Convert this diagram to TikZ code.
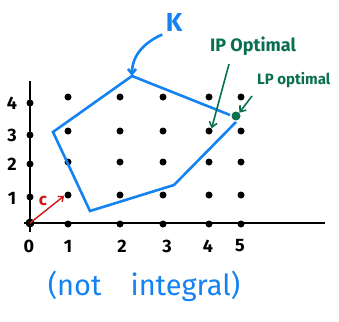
\documentclass[tikz,border=0pt]{standalone}
\usepackage{fontspec}
\setmainfont{Fira Sans}
\usepackage{xcolor}
\usetikzlibrary{arrows.meta,positioning}
\definecolor{penblue}{RGB}{20,130,240}
\definecolor{pengreen}{RGB}{10,110,80}
\definecolor{penred}{RGB}{210,20,20}
\tikzset{
  dot/.style={circle,fill=black,inner sep=0pt,minimum size=7pt},
  ticklabel/.style={font=\fontsize{18}{18}\selectfont\bfseries},
  greennote/.style={text=pengreen,font=\fontsize{15}{15}\selectfont\bfseries},
  pointer/.style={-{Straight Barb[length=5pt,width=8pt]},line width=1.6pt}
}
\begin{document}
\begin{tikzpicture}[x=1pt,y=-1pt,>=Stealth]
\useasboundingbox (0,0) rectangle (339,321);
% axes
\coordinate (o) at (30,223);
\coordinate (xstart) at (24,223);
\coordinate (xend) at (325,223);
\coordinate (ybot) at (30,232);
\coordinate (ytop) at (30,81);
\draw[line width=2pt] (xstart)--(xend);
\draw[line width=2pt] (ybot)--(ytop);
\node[dot,minimum size=9pt] (p00) at (o) {};
\foreach \j/\y in {1/197,2/164,3/135,4/103}{\node[dot] (p0\j) at (30,\y) {};}
% lattice points
\foreach \i/\x in {1/68,2/120,3/163,4/209,5/241}{
  \foreach \j/\y in {0/224,1/195,2/162,3/131,4/97}{\node[dot] (p\i\j) at (\x,\y) {};}
}
% tick labels
\foreach \i/\x in {0/29,1/68,2/122,3/167,4/208,5/240}{\node[ticklabel] (xl\i) at (\x,246) {\i};}
\foreach \j/\y in {1/198,2/164,3/135,4/103}{\node[ticklabel] (yl\j) at (12,\y) {\j};}
% polytope K
\coordinate (k1) at (53,132);
\coordinate (k2) at (132,76);
\coordinate (k3) at (230,115);
\coordinate (k4) at (236,122);
\coordinate (k5) at (174,185);
\coordinate (k6) at (90,211);
\draw[penblue,line width=2.6pt,line join=miter] (k3)--(k2)--(k1)--(k6)--(k5)--(k4);
\node[text=penblue,font=\fontsize{26}{26}\selectfont\bfseries] (klabel) at (174,22) {K};
\draw[pointer,penblue,line width=2.6pt] (klabel.south west) .. controls (145,42) and (132,55) .. (k2);
% cost vector
\node[text=penred,font=\fontsize{17}{17}\selectfont\bfseries] (clabel) at (43,201) {c};
\coordinate (ctip) at (64,196);
\draw[-{Straight Barb[length=4pt,width=7pt]},penred,line width=1.4pt] (o)--(ctip);
% optima
\node[circle,fill=pengreen,inner sep=0pt,minimum size=9pt] (lp) at (236,116) {};
\node[greennote,font=\fontsize{18}{18}\selectfont\bfseries] (iplabel) at (253,46) {IP Optimal};
\node[greennote,anchor=west,inner sep=0pt] (lplabel) at (257,80) {LP optimal};
\draw[pointer,pengreen] (229,64)--(p43.north east);
\draw[pointer,pengreen] (252,96)--(lp.north east);
% caption
\node[text=penblue,font=\fontsize{29}{29}\selectfont] (caption) at (144,286) {(not\quad integral)};
\end{tikzpicture}
\end{document}
